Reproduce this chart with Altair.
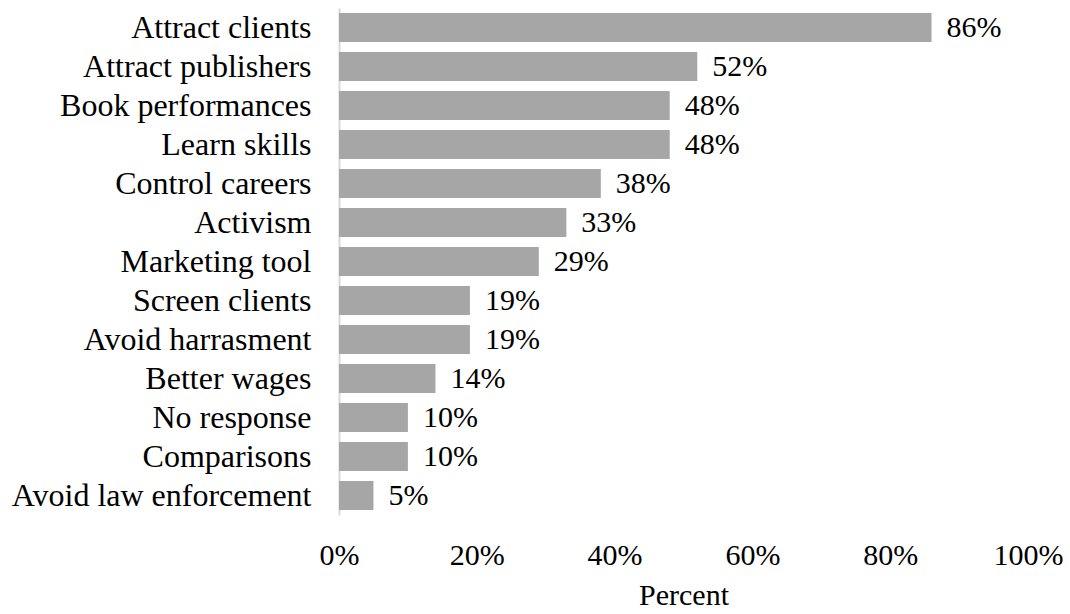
import altair as alt
import pandas as pd

categories = ["Attract clients", "Attract publishers", "Book performances", "Learn skills",
              "Control careers", "Activism", "Marketing tool", "Screen clients",
              "Avoid harrasment", "Better wages", "No response", "Comparisons",
              "Avoid law enforcement"]
values = [86, 52, 48, 48, 38, 33, 29, 19, 19, 14, 10, 10, 5]
tick_values = [0, 20, 40, 60, 80, 100]

df = pd.DataFrame({"cat": categories, "val": values})
df["lab"] = df["val"].astype(str) + "%"

FONT = "Liberation Serif"
FS = 30

y = alt.Y("cat:N", sort=categories, title=None,
          scale=alt.Scale(paddingInner=0.256, paddingOuter=0.128),
          axis=alt.Axis(ticks=False, labelPadding=28, domainColor="#D9D9D9", domainWidth=2,
                        labelFont=FONT, labelFontSize=32, labelColor="#000000", labelLimit=400))
x = alt.X("val:Q", title="Percent",
          scale=alt.Scale(domain=[0, 100], nice=False),
          axis=alt.Axis(values=tick_values, labelExpr="datum.value + '%'", grid=False,
                        domain=False, ticks=False, labelPadding=25,
                        labelFont=FONT, labelFontSize=FS, labelColor="#000000",
                        titleFont=FONT, titleFontSize=FS, titleFontWeight="normal",
                        titleColor="#000000", titlePadding=10, labelFlush=False))

bars = alt.Chart(df).mark_bar(color="#A6A6A6").encode(x=x, y=y)
text = alt.Chart(df).mark_text(align="left", baseline="middle", dx=15, font=FONT,
                               fontSize=FS, color="#000000").encode(
    x=alt.X("val:Q"), y=alt.Y("cat:N", sort=categories), text="lab:N")

chart = (bars + text).properties(
    width=689, height=507,
    autosize=alt.AutoSizeParams(type="none"),
    padding={"left": 339, "top": 8, "right": 42, "bottom": 99},
    background="#FFFFFF",
).configure_view(stroke=None)

chart.save("out.html", embed_options={"renderer": "svg", "actions": False})
